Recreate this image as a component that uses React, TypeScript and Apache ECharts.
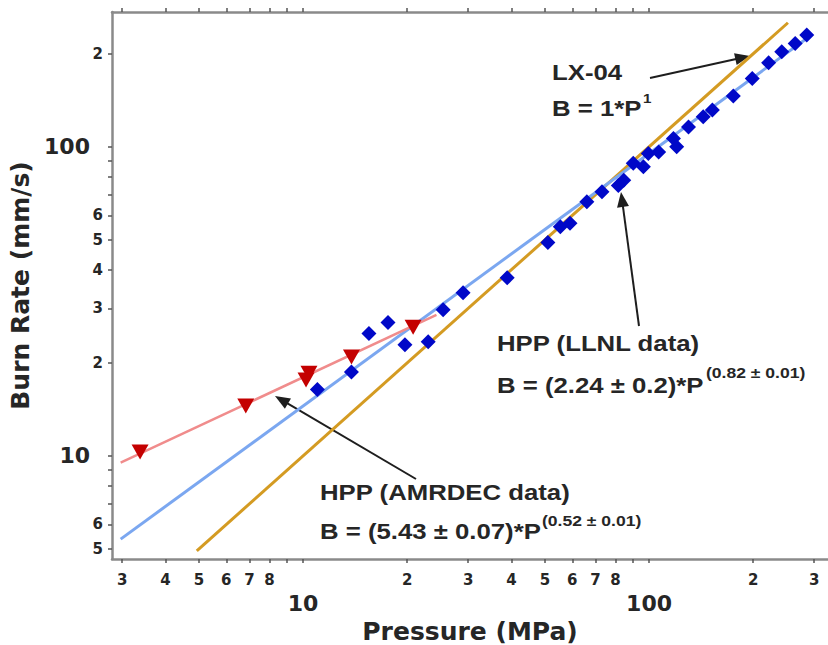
import React, { useEffect, useRef } from "react";
import * as echarts from "echarts";

// ---- Axis ticks / labels ----
const xTickValues = [3, 4, 5, 6, 7, 8, 9, 10, 20, 30, 40, 50, 60, 70, 80, 90, 100, 200, 300];
const xTickLabels = ["3", "4", "5", "6", "7", "8", "", "10", "2", "3", "4", "5", "6", "7", "8", "", "100", "2", "3"];
const yTickValues = [5, 6, 7, 8, 9, 10, 20, 30, 40, 50, 60, 70, 80, 90, 100, 200];
const yTickLabels = ["5", "6", "", "", "", "10", "2", "3", "4", "5", "6", "", "", "", "100", "2"];
const bigLabels = ["10", "100"];

// ---- Data (Pressure MPa, Burn rate mm/s) ----
const llnlData: [number, number][] = [
  [11.0, 16.4], [13.8, 18.7], [15.5, 24.9], [17.6, 27.0], [19.7, 22.9], [23.0, 23.4],
  [25.4, 29.7], [29.0, 33.7], [38.9, 37.7], [51.0, 49.0], [55.4, 55.1], [59.1, 56.6],
  [66.1, 66.4], [73.1, 71.5], [81.5, 75.0], [84.5, 78.0], [90.0, 88.4], [96.3, 86.2],
  [99.5, 95.2], [106.6, 96.3], [117.6, 106.4], [120.2, 100.0], [130.0, 116.0],
  [143.4, 125.0], [152.4, 131.5], [175.2, 145.9], [198.7, 166.4], [221.6, 187.0],
  [241.8, 203.0], [264.5, 216.0], [285.6, 229.8],
];
const amrdecData: [number, number][] = [
  [3.38, 10.3], [6.83, 14.5], [10.2, 17.6], [10.4, 18.5], [13.8, 20.9], [20.8, 26.1],
];
const llnlFit: [number, number][] = [[2.97, 5.38], [296, 231]];
const amrdecFit: [number, number][] = [[2.97, 9.51], [24.3, 28.6]];
const lx04Line: [number, number][] = [[4.93, 4.93], [252, 252]];

const X_MIN = 2.804, X_MAX = 329;
const Y_MIN = 4.64, Y_MAX = 273;

const TXT = "#262626";
const AXIS = "#8a8a8a";
const FONT = "DejaVu Sans";

function labelFor(values: number[], labels: string[], v: number): string {
  let idx = -1;
  let best = Infinity;
  values.forEach((t, i) => {
    const d = Math.abs(Math.log10(t) - Math.log10(v));
    if (d < best) { best = d; idx = i; }
  });
  if (idx < 0 || best > 0.001) return "";
  const s = labels[idx];
  if (s === "") return "";
  return bigLabels.includes(s) ? `{big|${s}}` : s;
}

function arrow(x1: number, y1: number, x2: number, y2: number) {
  const dx = x2 - x1, dy = y2 - y1;
  const L = Math.hypot(dx, dy);
  const ux = dx / L, uy = dy / L;
  const hl = 15, hw = 6;
  const bx = x2 - ux * hl, by = y2 - uy * hl;
  return [
    { type: "line", shape: { x1, y1, x2: bx + ux * 2, y2: by + uy * 2 }, style: { stroke: "#1e1e1e", lineWidth: 2 } },
    {
      type: "polygon",
      shape: { points: [[x2, y2], [bx - uy * hw, by + ux * hw], [bx + uy * hw, by - ux * hw]] },
      style: { fill: "#1e1e1e" },
    },
  ];
}

function txt(x: number, y: number, text: string, size: number) {
  return {
    type: "text",
    x,
    y,
    scaleX: 1.17,
    style: {
      text,
      x: 0,
      y: 0,
      fontFamily: "Liberation Sans",
      fontWeight: "bold",
      fontSize: size,
      fill: TXT,
      align: "left",
      verticalAlign: "middle",
    },
  };
}

export default function App() {
  const ref = useRef<HTMLDivElement>(null);

  useEffect(() => {
    if (!ref.current) return;
    const chart = echarts.init(ref.current, undefined, { renderer: "svg" });

    const axisLineStyle = { show: true, lineStyle: { color: AXIS, width: 2.5 } };

    const option: any = {
      animation: false,
      backgroundColor: "#fff",
      grid: { left: 112, right: 0, top: 12, bottom: 86, outerBoundsMode: "none" },
      xAxis: [
        {
          type: "log",
          logBase: 10,
          min: X_MIN,
          max: X_MAX,
          position: "bottom",
          axisLine: axisLineStyle,
          splitLine: { show: false },
          minorTick: { show: false },
          axisTick: { show: true, customValues: xTickValues, length: 4, lineStyle: { color: "#555", width: 1.5 } },
          axisLabel: {
            customValues: xTickValues,
            formatter: (v: number) => labelFor(xTickValues, xTickLabels, v),
            fontFamily: FONT,
            fontWeight: "bold",
            fontSize: 15,
            color: TXT,
            margin: 13,
            rich: {
              big: { fontFamily: FONT, fontWeight: "bold", fontSize: 22, color: TXT, padding: [20, 0, 0, 0] },
            },
          },
          name: "Pressure (MPa)",
          nameLocation: "middle",
          nameGap: 55,
          nameTextStyle: { fontFamily: FONT, fontWeight: "bold", fontSize: 25, color: TXT },
        },
        {
          type: "log",
          logBase: 10,
          min: X_MIN,
          max: X_MAX,
          position: "top",
          axisLine: axisLineStyle,
          splitLine: { show: false },
          axisTick: { show: true, customValues: xTickValues, length: 4, lineStyle: { color: "#555", width: 1.5 } },
          axisLabel: { show: false },
        },
      ],
      yAxis: [
        {
          type: "log",
          logBase: 10,
          min: Y_MIN,
          max: Y_MAX,
          position: "left",
          axisLine: axisLineStyle,
          splitLine: { show: false },
          minorTick: { show: false },
          axisTick: { show: true, customValues: yTickValues, length: 4, lineStyle: { color: "#555", width: 1.5 } },
          axisLabel: {
            customValues: yTickValues,
            formatter: (v: number) => labelFor(yTickValues, yTickLabels, v),
            fontFamily: FONT,
            fontWeight: "bold",
            fontSize: 15,
            color: TXT,
            margin: 9,
            rich: {
              big: { fontFamily: FONT, fontWeight: "bold", fontSize: 22, color: TXT, padding: [0, 13, 0, 0] },
            },
          },
          name: "Burn Rate (mm/s)",
          nameLocation: "middle",
          nameGap: 75,
          nameTextStyle: { fontFamily: FONT, fontWeight: "bold", fontSize: 25, color: TXT },
        },
      ],
      series: [
        {
          type: "line",
          name: "LX-04",
          data: lx04Line,
          showSymbol: false,
          symbol: "none",
          lineStyle: { color: "#d49b22", width: 3 },
          z: 2,
        },
        {
          type: "line",
          name: "LLNL fit",
          data: llnlFit,
          showSymbol: false,
          symbol: "none",
          lineStyle: { color: "#7ba7f0", width: 3 },
          z: 2,
        },
        {
          type: "line",
          name: "AMRDEC fit",
          data: amrdecFit,
          showSymbol: false,
          symbol: "none",
          lineStyle: { color: "#f08c8c", width: 2.5 },
          z: 2,
        },
        {
          type: "scatter",
          name: "HPP (LLNL data)",
          data: llnlData,
          symbol: "diamond",
          symbolSize: [15, 15],
          itemStyle: { color: "#0008c8", opacity: 1 },
          z: 3,
        },
        {
          type: "scatter",
          name: "HPP (AMRDEC data)",
          data: amrdecData,
          symbol: "triangle",
          symbolRotate: 180,
          symbolSize: [17, 15],
          itemStyle: { color: "#c40000", opacity: 1 },
          z: 4,
        },
      ],
      graphic: [
        ...arrow(650, 78, 750, 56),
        ...arrow(639, 326, 621, 192),
        ...arrow(416, 479, 275, 396),
        txt(552, 72, "LX-04", 22),
        txt(552, 108, "B = 1*P", 22),
        txt(643, 98, "1", 13),
        txt(497, 343, "HPP (LLNL data)", 22),
        txt(497, 385, "B = (2.24 ± 0.2)*P", 22),
        txt(706, 372, "(0.82 ± 0.01)", 15),
        txt(320, 492, "HPP (AMRDEC data)", 22),
        txt(320, 531, "B = (5.43 ± 0.07)*P", 22),
        txt(542, 520, "(0.52 ± 0.01)", 15),
      ],
    };

    chart.setOption(option);
    return () => chart.dispose();
  }, []);

  return (
    <div
      ref={ref}
      style={{ position: "absolute", left: 0, top: 0, width: 828, height: 645, background: "#fff" }}
    />
  );
}
